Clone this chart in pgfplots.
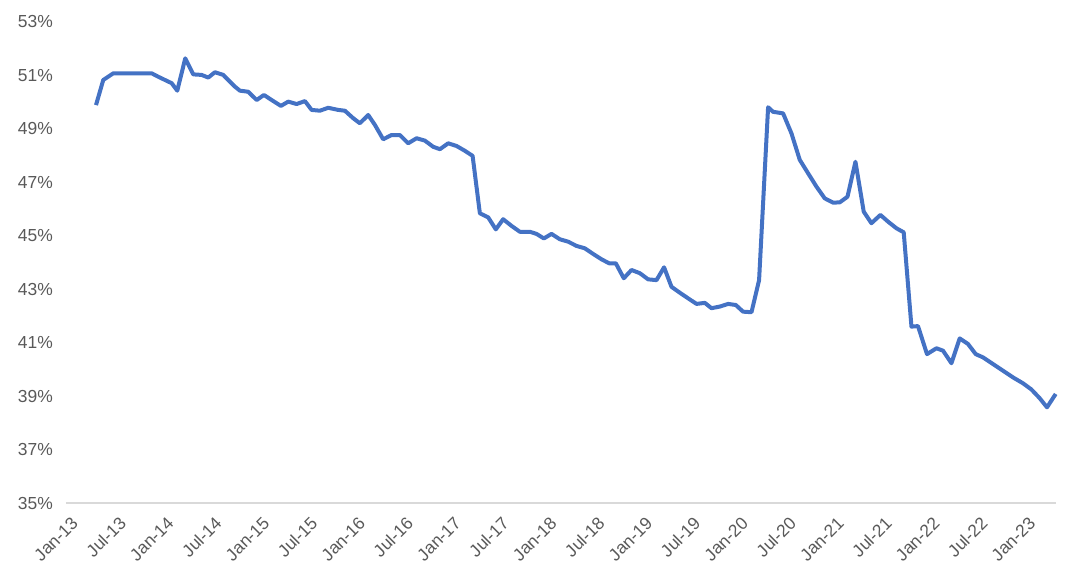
\documentclass[border=0pt]{standalone}
\usepackage{fontspec}
\setmainfont{Liberation Sans}
\usepackage{pgfplots}
\pgfplotsset{compat=1.18}

\definecolor{linecol}{HTML}{4472C4}
\definecolor{labelgray}{HTML}{595959}
\definecolor{axisgray}{HTML}{D9D9D9}

% x = months since Jan-13
\pgfplotstableread{
m v
3.76 49.89
4.67 50.83
5.93 51.08
10.74 51.08
11.57 50.95
12.62 50.80
13.25 50.71
13.95 50.43
14.95 51.64
15.95 51.04
17.00 51.02
17.83 50.92
18.67 51.12
19.71 51.02
21.18 50.58
21.80 50.43
22.84 50.39
23.90 50.08
24.81 50.27
25.78 50.08
26.94 49.86
27.86 50.02
28.91 49.93
29.95 50.04
30.79 49.71
31.83 49.68
32.87 49.79
34.12 49.71
34.96 49.68
36.00 49.40
36.84 49.21
37.88 49.52
38.72 49.15
39.76 48.61
40.81 48.77
41.85 48.77
42.89 48.46
43.95 48.65
44.99 48.56
46.03 48.33
46.87 48.24
47.91 48.46
48.96 48.36
50.00 48.18
50.97 47.99
51.88 45.84
52.92 45.69
53.88 45.24
54.80 45.62
55.85 45.37
56.89 45.15
58.15 45.15
58.98 45.07
59.90 44.90
60.86 45.07
61.90 44.87
62.94 44.78
64.00 44.62
65.04 44.53
66.08 44.32
67.13 44.12
68.08 43.97
68.92 43.97
69.92 43.41
70.89 43.72
71.93 43.60
72.97 43.37
74.02 43.34
74.97 43.82
75.90 43.09
76.94 42.87
77.98 42.66
79.04 42.45
80.08 42.49
80.91 42.29
81.95 42.35
83.00 42.45
83.96 42.41
84.87 42.16
85.93 42.14
86.88 43.34
88.01 49.81
88.63 49.64
89.89 49.58
90.94 48.83
91.98 47.84
93.02 47.34
94.07 46.84
95.11 46.40
96.15 46.24
96.99 46.25
97.96 46.46
98.96 47.77
100.00 45.90
100.96 45.47
102.09 45.78
103.04 45.53
104.10 45.28
105.01 45.13
105.98 41.60
106.80 41.62
107.93 40.57
109.11 40.79
109.94 40.70
110.99 40.23
112.03 41.16
113.07 40.95
114.04 40.57
114.95 40.45
116.20 40.20
117.46 39.95
118.71 39.70
119.96 39.48
121.01 39.25
122.06 38.92
122.97 38.58
124.06 39.08
}\share

\begin{document}
\begin{tikzpicture}
\begin{axis}[
  at={(0,0)}, anchor=south west,
  scale only axis, width=990bp, height=481bp,
  xmin=0, xmax=124.1, ymin=35, ymax=53,
  axis x line*=bottom, axis y line*=left,
  x axis line style={draw=axisgray, line width=1.5bp, -},
  y axis line style={draw=none},
  major tick length=0pt,
  xtick={0,6,...,120},
  xticklabels={Jan-13,Jul-13,Jan-14,Jul-14,Jan-15,Jul-15,Jan-16,Jul-16,Jan-17,Jul-17,Jan-18,Jul-18,Jan-19,Jul-19,Jan-20,Jul-20,Jan-21,Jul-21,Jan-22,Jul-22,Jan-23},
  ytick={35,37,...,53},
  yticklabels={35\%,37\%,39\%,41\%,43\%,45\%,47\%,49\%,51\%,53\%},
  ticklabel style={font=\fontsize{17.5}{20}\selectfont, text=labelgray},
  xticklabel style={inner sep=0pt, xshift=9bp, yshift=-17bp, rotate=45, anchor=east},
  yticklabel style={inner sep=0pt, xshift=-13bp, anchor=east},
  clip=false,
]
\addplot[linecol, line width=4bp, line join=round, mark=none] table[x=m, y=v] {\share};
\end{axis}
\pgfresetboundingbox
\useasboundingbox (-66bp,-77bp) rectangle (1026bp,503bp);
\end{tikzpicture}
\end{document}
